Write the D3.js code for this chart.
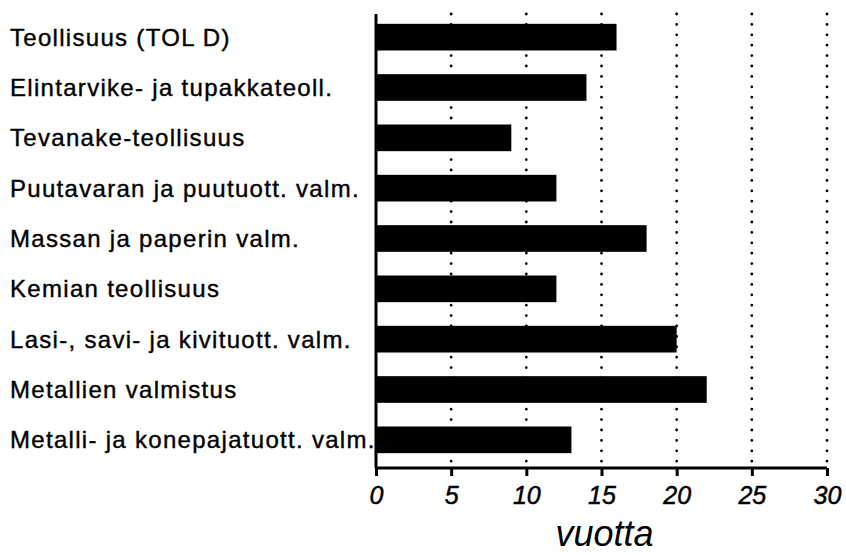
<!DOCTYPE html>
<html>
<head>
<meta charset="utf-8">
<script src="https://cdn.jsdelivr.net/npm/d3@7"></script>
<style>
    body { margin: 0; background: #fff; overflow: hidden; }
    svg { display: block; font-family: "Liberation Sans", Arial, Helvetica, sans-serif; }
</style>
</head>
<body>
<div id="chart"></div>
<script>
// Toimialat ja arvot (vuotta)
const categories = [
    'Teollisuus (TOL D)',
    'Elintarvike- ja tupakkateoll.',
    'Tevanake-teollisuus',
    'Puutavaran ja puutuott. valm.',
    'Massan ja paperin valm.',
    'Kemian teollisuus',
    'Lasi-, savi- ja kivituott. valm.',
    'Metallien valmistus',
    'Metalli- ja konepajatuott. valm.'
];
const values = [16, 14, 9, 12, 18, 12, 20, 22, 13];
const tickValues = [0, 5, 10, 15, 20, 25, 30];
const axisTitle = 'vuotta';

const width = 846;
const height = 555;

const svg = d3.select('#chart')
    .append('svg')
    .attr('width', width)
    .attr('height', height);

const x = d3.scaleLinear().domain([0, 30]).range([376, 827]);
const y = d3.scaleBand().domain(categories).range([12, 465]).paddingInner(0.47).paddingOuter(0.235);

const plotTop = 14;
const axisY = 468;

// dotted gridlines
svg.append('g')
    .selectAll('line')
    .data(tickValues.filter(d => d > 0))
    .enter()
    .append('line')
    .attr('x1', d => x(d))
    .attr('x2', d => x(d))
    .attr('y1', plotTop)
    .attr('y2', axisY)
    .attr('stroke', '#000')
    .attr('stroke-width', 2.8)
    .attr('stroke-linecap', 'round')
    .attr('stroke-dasharray', '0 10.4');

// bars
svg.append('g')
    .selectAll('rect')
    .data(values)
    .enter()
    .append('rect')
    .attr('x', x(0))
    .attr('y', (d, i) => y(categories[i]))
    .attr('width', d => x(d) - x(0))
    .attr('height', y.bandwidth())
    .attr('fill', '#000');

// category labels
svg.append('g')
    .selectAll('text')
    .data(categories)
    .enter()
    .append('text')
    .attr('x', 10)
    .attr('y', d => y(d) + y.bandwidth() / 2)
    .attr('dy', '0.36em')
    .attr('font-size', 24)
    .attr('letter-spacing', 1.3)
    .attr('fill', '#000')
    .attr('stroke', '#000')
    .attr('stroke-width', 0.4)
    .text(d => d);

// x axis
const xAxis = d3.axisBottom(x)
    .tickValues(tickValues)
    .tickSize(8)
    .tickPadding(10)
    .tickFormat(d3.format('d'));

const gx = svg.append('g')
    .attr('transform', `translate(0,${axisY})`)
    .call(xAxis);
gx.select('.domain')
    .attr('d', `M${x(0)},0H${x(30)}`)
    .attr('stroke-width', 3);
gx.selectAll('.tick line').attr('stroke-width', 3);
gx.selectAll('.tick text')
    .attr('font-size', 25)
    .attr('font-style', 'italic')
    .attr('font-family', '"Liberation Sans", Arial, sans-serif')
    .attr('fill', '#000')
    .attr('stroke', '#000')
    .attr('stroke-width', 0.5);

// y axis line
svg.append('line')
    .attr('x1', x(0))
    .attr('x2', x(0))
    .attr('y1', plotTop)
    .attr('y2', axisY)
    .attr('stroke', '#000')
    .attr('stroke-width', 3);

// axis title
svg.append('text')
    .attr('x', (x(0) + x(30)) / 2 + 3)
    .attr('y', 546)
    .attr('text-anchor', 'middle')
    .attr('font-size', 36)
    .attr('font-style', 'italic')
    .attr('fill', '#000')
    .text(axisTitle);
</script>
</body>
</html>
